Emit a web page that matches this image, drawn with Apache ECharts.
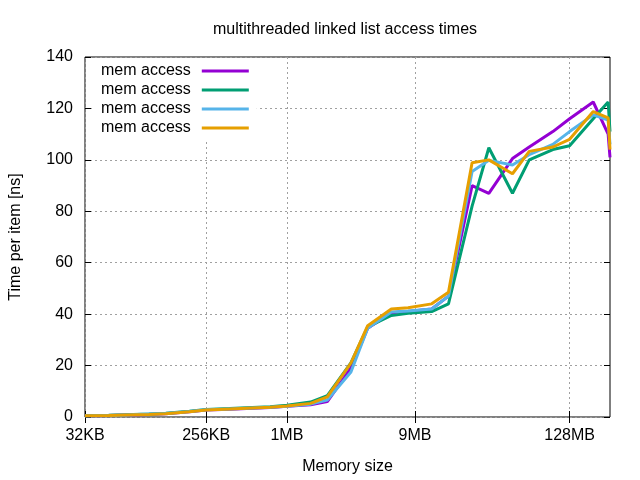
<!DOCTYPE html>
<html>
<head>
<meta charset="utf-8">
<script src="https://cdn.jsdelivr.net/npm/echarts@6/dist/echarts.min.js"></script>
<style>
  html, body { margin: 0; padding: 0; background: #fff; }
  #chart { width: 640px; height: 480px; }
</style>
</head>
<body>
<div id="chart"></div>
<script>
// memory sizes in KB
const sizesKB = [32, 48, 64, 96, 128, 192, 256, 384, 512, 768, 1024, 1536, 2048, 3072, 4096,
  6144, 8192, 12288, 16384, 24576, 32768, 49152, 65536, 98304, 131072, 196608, 253952, 262144];

// time per item [ns]
const purpleTimes = [0.5, 0.6, 0.8, 1.0, 1.3, 2.0, 2.7, 3.0, 3.3, 3.7, 4.2, 4.8, 6.0, 19, 34.5,
  40.5, 41, 42, 47, 90, 87, 100.5, 105, 111, 116, 122.5, 110, 101];
const greenTimes = [0.5, 0.7, 0.9, 1.2, 1.5, 2.2, 2.9, 3.3, 3.6, 4.0, 4.6, 5.8, 8.3, 21, 35,
  39.5, 40.3, 41, 44, 82, 104.7, 87, 100, 104, 105.5, 116, 122.5, 111];
const blueTimes = [0.5, 0.6, 0.8, 1.2, 1.4, 2.1, 2.8, 3.1, 3.4, 3.8, 4.2, 5.0, 6.6, 17.5, 34.5,
  40.8, 41.2, 42, 47, 95.5, 99.8, 98, 102, 106, 111, 117.5, 115.5, 106];
const orangeTimes = [0.5, 0.6, 0.8, 1.0, 1.3, 2.0, 2.7, 3.1, 3.4, 3.8, 4.3, 5.3, 7.8, 21, 35.5,
  42, 42.5, 44, 48.5, 98.9, 100, 94.6, 103.3, 105, 108, 118.8, 116.3, 104];

const tickSizesKB = [32, 256, 1024, 9216, 131072];
const tickLabels = ["32KB", "256KB", "1MB", "9MB", "128MB"];

const colors = ["#9400d3", "#009e73", "#56b4e9", "#e69f00"];
const allTimes = [purpleTimes, greenTimes, blueTimes, orangeTimes];

const FONT = "Liberation Sans";
const FS = 16;

function pairs(ys) {
  return sizesKB.map((s, i) => [s, ys[i]]);
}

function xAxisCfg(pos, showLabels) {
  return {
    type: "log",
    logBase: 2,
    position: pos,
    min: 32,
    max: 262144,
    axisLine: { show: false },
    axisTick: {
      show: true, inside: true, length: 6,
      customValues: tickSizesKB,
      lineStyle: { color: "#000", width: 1 }
    },
    axisLabel: {
      show: showLabels,
      customValues: tickSizesKB,
      margin: 11,
      color: "#000",
      fontFamily: FONT,
      fontSize: FS,
      formatter: v => {
        const i = tickSizesKB.indexOf(v);
        return i >= 0 ? tickLabels[i] : "";
      }
    },
    minorTick: { show: false },
    splitLine: {
      show: showLabels,
      lineStyle: { color: "#a0a0a0", type: [2, 3], width: 1 }
    }
  };
}

function yAxisCfg(pos, showLabels) {
  return {
    type: "value",
    position: pos,
    min: 0,
    max: 140,
    interval: 20,
    axisLine: { show: false },
    axisTick: { show: true, inside: true, length: 6, lineStyle: { color: "#000", width: 1 } },
    axisLabel: {
      show: showLabels,
      margin: 12,
      color: "#000",
      fontFamily: FONT,
      fontSize: FS
    },
    splitLine: {
      show: showLabels,
      lineStyle: { color: "#a0a0a0", type: [2, 3], width: 1 }
    }
  };
}

const chart = echarts.init(document.getElementById("chart"), null, { renderer: "canvas" });

const xTop = xAxisCfg("top", false);
const yRight = yAxisCfg("right", false);
const xBottom = xAxisCfg("bottom", true);
xBottom.name = "Memory size";
xBottom.nameLocation = "middle";
xBottom.nameGap = 42;
xBottom.nameTextStyle = { color: "#000", fontFamily: FONT, fontSize: FS };
const yLeft = yAxisCfg("left", true);
yLeft.name = "Time per item [ns]";
yLeft.nameLocation = "middle";
yLeft.nameGap = 61;
yLeft.nameTextStyle = { color: "#000", fontFamily: FONT, fontSize: FS };

chart.setOption({
  animation: false,
  backgroundColor: "#fff",
  title: {
    text: "multithreaded linked list access times",
    left: 340,
    textAlign: "center",
    top: 17,
    textStyle: { color: "#000", fontFamily: FONT, fontSize: FS, fontWeight: "normal" }
  },
  grid: {
    left: 84, right: 30, top: 57, bottom: 62,
    show: true, borderColor: "#000", borderWidth: 1,
    backgroundColor: "transparent"
  },
  legend: {
    orient: "vertical",
    left: 95,
    top: 58,
    align: "right",
    padding: [5, 8, 5, 6],
    itemGap: 3,
    itemWidth: 47,
    itemHeight: 3,
    icon: "rect",
    backgroundColor: "#fff",
    formatter: () => "mem access",
    textStyle: { color: "#000", fontFamily: FONT, fontSize: FS, lineHeight: 16, padding: [0, 6, 0, 0] },
    data: ["s1", "s2", "s3", "s4"]
  },
  xAxis: [xBottom, xTop],
  yAxis: [yLeft, yRight],
  series: allTimes.map((ys, i) => ({
    name: "s" + (i + 1),
    type: "line",
    data: pairs(ys),
    showSymbol: false,
    symbol: "none",
    color: colors[i],
    lineStyle: { width: 3, color: colors[i] },
    xAxisIndex: 0,
    yAxisIndex: 0
  }))
});
</script>
</body>
</html>
